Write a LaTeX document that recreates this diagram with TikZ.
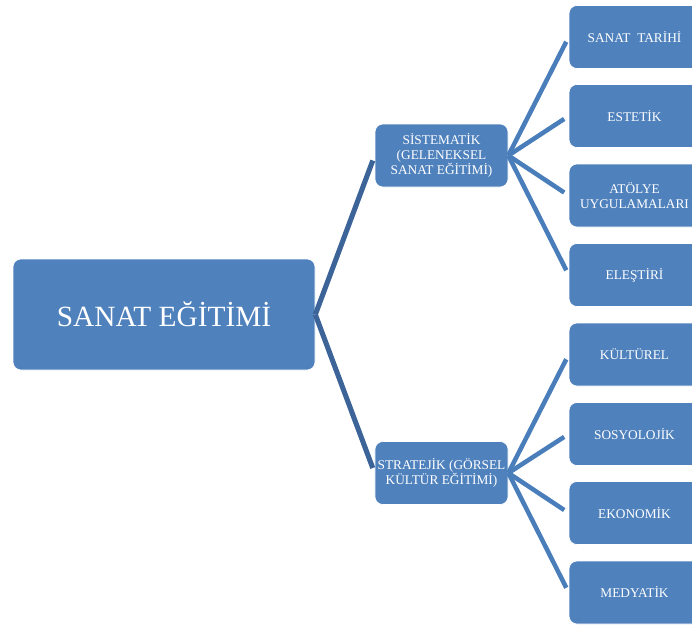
\documentclass[tikz,border=0pt]{standalone}
\usepackage{fontspec}
\setmainfont{Liberation Serif}
\definecolor{boxblue}{RGB}{79,129,189}
\definecolor{linkblue}{RGB}{74,126,187}
\definecolor{rootlink}{RGB}{60,100,152}

\begin{document}
\begin{tikzpicture}[x=0.75pt, y=-0.75pt,
  topic/.style={fill=boxblue, draw=white, line width=0.5pt, rounded corners=6pt,
    text=white, align=center, inner sep=2pt},
  rootbox/.style={topic, minimum width=226.5pt, minimum height=83.25pt,
    font=\fontsize{22}{26}\selectfont},
  branchbox/.style={topic, minimum width=99.75pt, minimum height=47.25pt,
    font=\fontsize{10}{11.25}\selectfont},
  leafbox/.style={topic, minimum width=98.25pt, minimum height=47.25pt,
    font=\fontsize{10}{11.25}\selectfont},
  link/.style={draw=linkblue, line width=3.4pt, shorten >=4pt},
  mainlink/.style={link, draw=rootlink, line width=3.8pt}]

  \clip (0,0) rectangle (692,625);

  % main topic
  \node[rootbox] (egitim) at (164, 314.5) {SANAT EĞİTİMİ};

  % two approaches
  \node[branchbox] (sistematik) at (441.5, 155.5) {SİSTEMATİK\\(GELENEKSEL\\SANAT EĞİTİMİ)};
  \node[branchbox] (stratejik)  at (441.5, 473)   {STRATEJİK (GÖRSEL\\KÜLTÜR EĞİTİMİ)};

  % leaves of the first approach
  \node[leafbox] (tarih)   at (634.5, 37)    {SANAT~~TARİHİ};
  \node[leafbox] (estetik) at (634.5, 116)   {ESTETİK};
  \node[leafbox] (atolye)  at (634.5, 195.5) {ATÖLYE\\UYGULAMALARI};
  \node[leafbox] (elestiri) at (634.5, 275)  {ELEŞTİRİ};

  % leaves of the second approach
  \node[leafbox] (kulturel)  at (634.5, 354.5) {KÜLTÜREL};
  \node[leafbox] (sosyoloji) at (634.5, 434)   {SOSYOLOJİK};
  \node[leafbox] (ekonomi)   at (634.5, 513)   {EKONOMİK};
  \node[leafbox] (medya)     at (634.5, 592.5) {MEDYATİK};

  % connectors
  \draw[mainlink] (egitim.east) -- (sistematik.west);
  \draw[mainlink] (egitim.east) -- (stratejik.west);

  \draw[link] (sistematik.east) -- (tarih.west);
  \draw[link] (sistematik.east) -- (estetik.west);
  \draw[link] (sistematik.east) -- (atolye.west);
  \draw[link] (sistematik.east) -- (elestiri.west);

  \draw[link] (stratejik.east) -- (kulturel.west);
  \draw[link] (stratejik.east) -- (sosyoloji.west);
  \draw[link] (stratejik.east) -- (ekonomi.west);
  \draw[link] (stratejik.east) -- (medya.west);

\end{tikzpicture}
\end{document}
